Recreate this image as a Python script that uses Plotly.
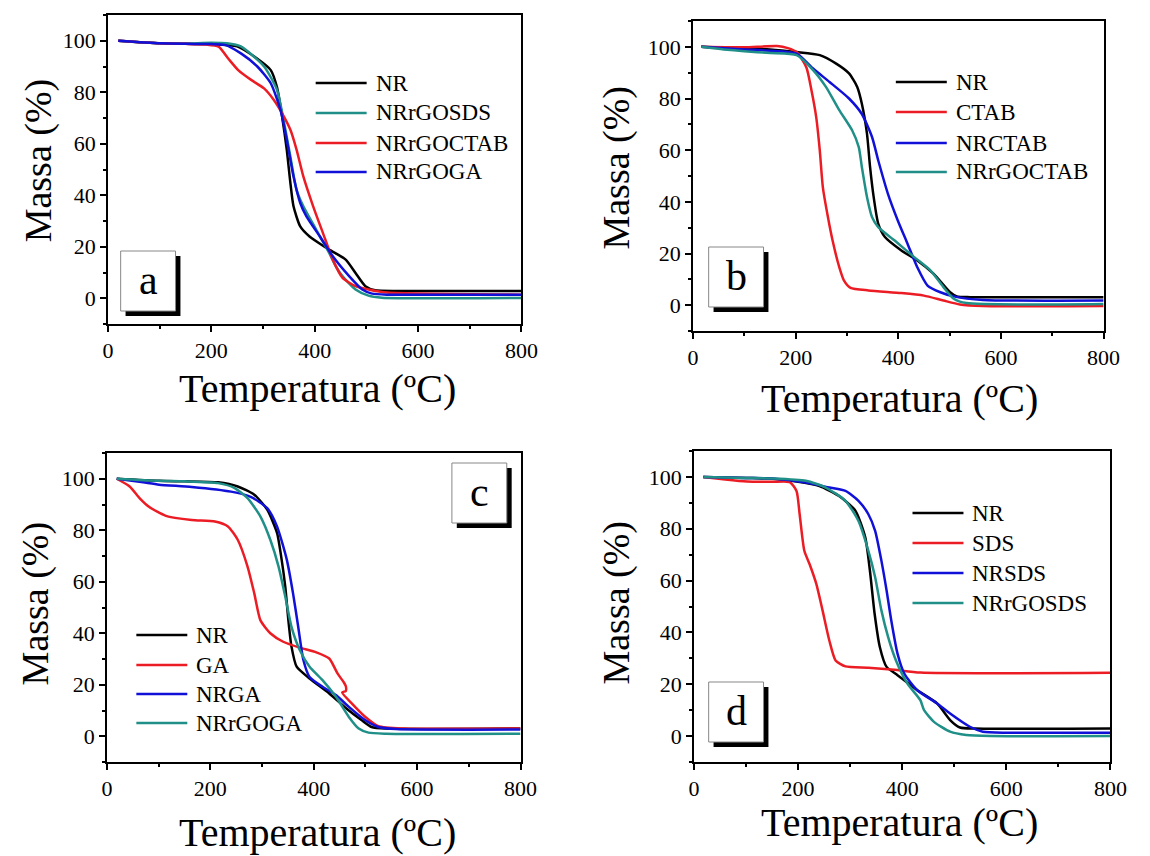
import plotly.graph_objects as go

# ---------------- data ----------------
# Panel a
a_NR_x = [20, 60, 100, 150, 200, 250, 289, 315, 327, 337, 346, 353, 359, 372, 390, 428, 460, 479, 498, 517, 560, 800]
a_NR_y = [100, 99.4, 99.0, 98.8, 98.7, 97.8, 93, 88.6, 82, 70.5, 57.6, 44.7, 35.7, 27.9, 24, 18.9, 15, 9.8, 4.7, 3.1, 2.8, 2.8]
a_SDS_x = [20, 100, 150, 200, 230, 258, 302, 327, 340, 353, 365, 378, 403, 428, 441, 454, 479, 504, 530, 800]
a_SDS_y = [100, 99.0, 98.9, 99.2, 99, 97.7, 90, 81, 69, 55, 42, 35.7, 26.6, 17.6, 12.4, 8.5, 3.4, 1, 0.2, 0.1]
a_CTAB_x = [20, 100, 150, 190, 214, 233, 252, 277, 302, 321, 337, 353, 365, 378, 397, 416, 435, 454, 479, 504, 540, 800]
a_CTAB_y = [100, 99, 98.8, 98.5, 97.7, 93, 88.6, 84.8, 81.5, 77, 71.8, 65.4, 57.6, 47.3, 35.7, 25.3, 15, 7.9, 4.7, 3.4, 2.2, 1.4]
a_GA_x = [20, 100, 150, 200, 226, 258, 289, 315, 334, 346, 359, 372, 384, 410, 435, 467, 492, 511, 540, 800]
a_GA_y = [100, 99, 98.8, 98.7, 98.4, 95, 90, 83.5, 73, 61.5, 47.3, 37, 31.8, 24, 16.3, 8.5, 3.4, 1.8, 1.4, 1.4]

# Panel b
b_NR_x = [16, 100, 150, 202, 247, 279, 304, 320, 329, 339, 345, 352, 361, 374, 406, 437, 469, 501, 514, 540, 800]
b_NR_y = [100, 99.4, 99.0, 98, 96.8, 93.5, 89.7, 84.5, 78, 66.4, 53.5, 41.9, 31.5, 26.4, 21.2, 17.3, 12.1, 5, 3.4, 3.1, 3.1]
b_CTAB_x = [16, 100, 164, 185, 202, 221, 231, 240, 247, 253, 263, 272, 285, 294, 307, 342, 406, 450, 488, 520, 565, 800]
b_CTAB_y = [100, 99.8, 100.3, 99.5, 98, 92, 83, 72.9, 60, 45.7, 34, 25, 14.7, 9.6, 6.7, 5.7, 4.7, 3.7, 1.8, 0.3, -0.3, -0.3]
b_NRCTAB_x = [16, 100, 150, 202, 234, 266, 304, 329, 349, 361, 380, 399, 418, 437, 457, 482, 508, 565, 800]
b_NRCTAB_y = [100, 99, 98.5, 97.4, 91.6, 86.4, 80, 74, 65, 56, 43, 32.8, 23.8, 14.7, 7.6, 5, 3.4, 2, 1.8]
b_rGO_x = [16, 60, 100, 151, 202, 234, 259, 285, 310, 323, 329, 339, 349, 361, 393, 431, 463, 488, 508, 533, 800]
b_rGO_y = [100, 99, 98.3, 97.6, 96.8, 91, 84.5, 75.5, 67.7, 61.2, 53.5, 41.9, 34, 30.2, 25, 18.6, 13.4, 7, 2.5, 0.8, 0.5]

# Panel c
c_NR_x = [19, 100, 150, 215, 253, 285, 310, 329, 338, 345, 351, 357, 367, 392, 430, 468, 493, 512, 540, 800]
c_NR_y = [100, 99.2, 99, 98.6, 97, 93.8, 88, 79, 68.5, 58, 45, 34.8, 27, 22.4, 16.6, 10, 6.2, 3.6, 3, 3]
c_GA_x = [19, 44, 63, 82, 114, 164, 209, 234, 253, 272, 285, 297, 316, 341, 373, 405, 430, 446, 458, 462, 462, 455, 474, 500, 525, 575, 800]
c_GA_y = [100, 97, 92.5, 89, 85.6, 84, 83.4, 81.5, 76.3, 65.9, 55.5, 45, 40, 36.7, 34.4, 32.6, 30.2, 24.4, 21, 19.5, 17.6, 17, 12.7, 7.5, 3.9, 3, 3]
c_NRGA_x = [19, 70, 101, 164, 240, 278, 310, 329, 348, 360, 370, 380, 392, 417, 443, 468, 500, 525, 560, 800]
c_NRGA_y = [100, 98.6, 97.7, 96.8, 95, 93, 88.6, 81.5, 68.5, 55.5, 42.5, 29.6, 23, 19.2, 16, 11.4, 6.2, 3.6, 2.8, 2.6]
c_rGO_x = [19, 100, 150, 215, 247, 272, 297, 316, 332, 345, 357, 373, 392, 417, 443, 468, 487, 506, 540, 800]
c_rGO_y = [100, 99.2, 99, 98.3, 96.4, 92.5, 85.3, 76.3, 65.9, 54.2, 42.5, 33.5, 27, 21.8, 15.3, 7.5, 3, 1.4, 1, 1]

# Panel d
d_NR_x = [18, 100, 150, 197, 241, 278, 310, 329, 338, 347, 357, 370, 391, 429, 467, 492, 511, 540, 800]
d_NR_y = [100, 99.6, 99.3, 98.2, 96.5, 92.7, 87, 76.7, 63.8, 47.2, 34.4, 26.7, 23.5, 17.7, 12.6, 6.2, 3.3, 2.9, 2.9]
d_SDS_x = [18, 60, 102, 150, 184, 197, 203, 212, 222, 235, 247, 260, 272, 291, 335, 385, 435, 800]
d_SDS_y = [100, 99, 98.2, 98.1, 98, 94.6, 85.6, 71.5, 66.4, 58.7, 48.5, 36.9, 29.2, 26.9, 26.4, 25.6, 24.5, 24.4]
d_NRSDS_x = [18, 100, 150, 215, 260, 291, 316, 335, 348, 360, 370, 379, 391, 404, 429, 467, 492, 530, 555, 600, 800]
d_NRSDS_y = [100, 99.6, 99.4, 97.8, 95.9, 94.6, 90.8, 85.6, 79.2, 67.7, 56.2, 44.6, 31.8, 24.1, 17.7, 12.6, 8.7, 3.6, 1.7, 1.3, 1.3]
d_rGO_x = [18, 100, 150, 215, 253, 291, 316, 335, 348, 360, 373, 388, 410, 435, 442, 461, 492, 523, 570, 800]
d_rGO_y = [100, 99.6, 99.4, 98.5, 95.9, 90.8, 83, 71.5, 61.3, 48.5, 38.2, 29.2, 20.3, 13.8, 10, 5.5, 1.7, 0.4, 0, 0]

panel_letters = ["a", "b", "c", "d"]
x_ticks = [0, 200, 400, 600, 800]
y_ticks = [0, 20, 40, 60, 80, 100]
x_title = "Temperatura (ºC)"
y_title = "Massa (%)"

# ---------------- styling ----------------
W, H = 1150, 856
BLACK = "#000000"
RED = "#ec1c24"
BLUE = "#1010d8"
TEAL = "#1f8f88"
FONT = "Times New Roman, Liberation Serif, serif"

def fx(px):
    return px / W

def fy(py):
    return 1 - py / H

panels = [
    dict(box=(104, 526, 15, 324),
         series=[("NR", a_NR_x, a_NR_y, BLACK), ("NRrGOSDS", a_SDS_x, a_SDS_y, TEAL),
                 ("NRrGOCTAB", a_CTAB_x, a_CTAB_y, RED), ("NRrGOGA", a_GA_x, a_GA_y, BLUE)],
         leg=(316, 368, 375, [83, 113, 143, 172]),
         lbox=(117, 251), ytitle=(33, 160), xtitle=(318, 388)),
    dict(box=(701, 1120, 21, 331),
         series=[("NR", b_NR_x, b_NR_y, BLACK), ("CTAB", b_CTAB_x, b_CTAB_y, RED),
                 ("NRCTAB", b_NRCTAB_x, b_NRCTAB_y, BLUE), ("NRrGOCTAB", b_rGO_x, b_rGO_y, TEAL)],
         leg=(908, 960, 967, [82, 112, 143, 172]),
         lbox=(717, 247), ytitle=(622, 168), xtitle=(912, 398)),
    dict(box=(103, 525, 453, 762),
         series=[("NR", c_NR_x, c_NR_y, BLACK), ("GA", c_GA_x, c_GA_y, RED),
                 ("NRGA", c_NRGA_x, c_NRGA_y, BLUE), ("NRrGOGA", c_rGO_x, c_rGO_y, TEAL)],
         leg=(133, 185, 192, [635, 665, 694, 723]),
         lbox=(455, 463), ytitle=(30, 603), xtitle=(318, 832)),
    dict(box=(702, 1127, 451, 762),
         series=[("NR", d_NR_x, d_NR_y, BLACK), ("SDS", d_SDS_x, d_SDS_y, RED),
                 ("NRSDS", d_NRSDS_x, d_NRSDS_y, BLUE), ("NRrGOSDS", d_rGO_x, d_rGO_y, TEAL)],
         leg=(925, 977, 984, [513, 543, 573, 603]),
         lbox=(717, 682), ytitle=(622, 603), xtitle=(912, 822)),
]

fig = go.Figure()
shapes = []
annotations = []
layout = dict(width=W, height=H, margin=dict(l=0, r=0, t=0, b=0),
              paper_bgcolor="white", plot_bgcolor="white", showlegend=False,
              font=dict(family=FONT, color=BLACK))

for i, p in enumerate(panels):
    n = "" if i == 0 else str(i + 1)
    xa, ya = "x" + n, "y" + n
    x0, x1, y0, y1 = p["box"]
    axis_common = dict(showgrid=False, zeroline=False, showline=True, linecolor=BLACK,
                       linewidth=1.5, mirror=True, ticks="outside", ticklen=6, tickwidth=1.5,
                       tickcolor=BLACK, tickfont=dict(family=FONT, size=22, color=BLACK))
    layout["xaxis" + n] = dict(axis_common, domain=[fx(x0), fx(x1)], range=[0, 800],
                               tickvals=x_ticks, anchor=ya,
                               minor=dict(dtick=100, ticklen=3, tickwidth=1.5, tickcolor=BLACK, ticks="outside"))
    layout["yaxis" + n] = dict(axis_common, domain=[fy(y1), fy(y0)], range=[-10, 110],
                               tickvals=y_ticks, anchor=xa,
                               minor=dict(dtick=10, ticklen=3, tickwidth=1.5, tickcolor=BLACK, ticks="outside"))
    for name, xs, ys, col in p["series"]:
        fig.add_trace(go.Scatter(x=xs, y=ys, mode="lines", name=name, xaxis=xa, yaxis=ya,
                                 line=dict(color=col, width=2.5, shape="spline", smoothing=0.6)))
    # manual legend
    lx0, lx1, tx, rows = p["leg"]
    for (name, xs, ys, col), ry in zip(p["series"], rows):
        shapes.append(dict(type="line", xref="paper", yref="paper", x0=fx(lx0), x1=fx(lx1),
                           y0=fy(ry), y1=fy(ry), line=dict(color=col, width=2.5)))
        annotations.append(dict(xref="paper", yref="paper", x=fx(tx), y=fy(ry), text=name,
                                showarrow=False, xanchor="left", yanchor="middle",
                                font=dict(family=FONT, size=23, color=BLACK)))
    # letter box with shadow
    bx, by = p["lbox"]
    bw, bh = 56, 60
    shapes.append(dict(type="rect", xref="paper", yref="paper", x0=fx(bx + 5), x1=fx(bx + bw + 5),
                       y0=fy(by + bh + 5), y1=fy(by + 5), fillcolor=BLACK, line=dict(width=0)))
    shapes.append(dict(type="rect", xref="paper", yref="paper", x0=fx(bx), x1=fx(bx + bw),
                       y0=fy(by + bh), y1=fy(by), fillcolor="white", line=dict(color="#888888", width=1)))
    annotations.append(dict(xref="paper", yref="paper", x=fx(bx + bw / 2), y=fy(by + bh / 2 - 1),
                            text=panel_letters[i], showarrow=False, xanchor="center", yanchor="middle",
                            font=dict(family=FONT, size=42, color=BLACK)))
    # axis titles
    tx_, ty_ = p["ytitle"]
    annotations.append(dict(xref="paper", yref="paper", x=fx(tx_), y=fy(ty_), text=y_title,
                            showarrow=False, textangle=-90, xanchor="center", yanchor="middle",
                            font=dict(family=FONT, size=38, color=BLACK)))
    tx_, ty_ = p["xtitle"]
    annotations.append(dict(xref="paper", yref="paper", x=fx(tx_), y=fy(ty_), text=x_title,
                            showarrow=False, xanchor="center", yanchor="middle",
                            font=dict(family=FONT, size=40, color=BLACK)))

layout["shapes"] = shapes
layout["annotations"] = annotations
fig.update_layout(**layout)
fig.write_html("out.html")
